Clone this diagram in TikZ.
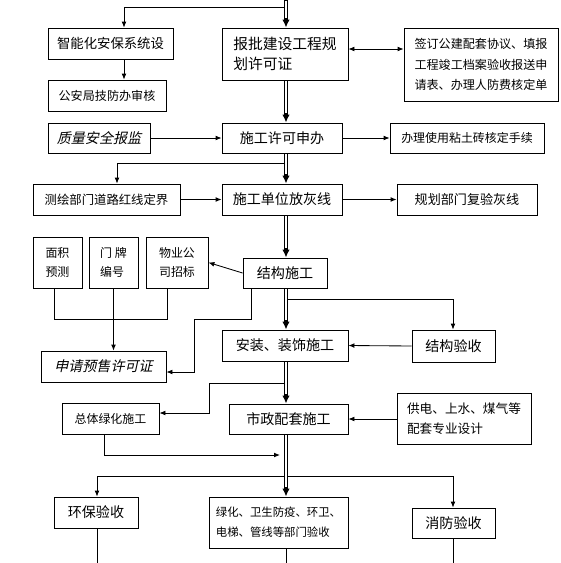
\documentclass[tikz,border=0pt]{standalone}
\usepackage{fontspec}
\setmainfont{Noto Sans CJK SC}
\newfontfamily\slantfont[FakeSlant=0.22]{Noto Sans CJK SC}
\usetikzlibrary{arrows.meta}

\tikzset{
  box/.style={draw, line width=0.6pt, inner sep=0pt, align=left},
  wh/.style 2 args={minimum width=#1*0.25mm, minimum height=#2*0.25mm},
  fs/.style 2 args={font=\fontsize{#1}{#2}\selectfont},
  plain/.style={line width=0.6pt},
  link/.style={line width=0.6pt, -{Latex[length=1.5mm,width=1.2mm]}},
  spine/.style={line width=2.7pt, -{Latex[length=2mm,width=1.9mm]},
    postaction={draw=white, line width=1.3pt, -, shorten <=0.5pt, shorten >=2.3mm}},
}

\begin{document}
\begin{tikzpicture}[x=0.25mm, y=-0.25mm]
  \useasboundingbox (0,0) rectangle (561,563);
  % boxes
  \node[box, wh={125}{31}, fs={9.5}{13}] (anbao) at (110.5,43.5) {智能化安保系统设};
  \node[box, wh={118}{31}, fs={8.6}{12}] (gongan) at (107,95.5) {公安局技防办审核};
  \node[box, wh={102}{30}, fs={10}{13}] (zhiliang) at (99,138) {\slantfont 质量安全报监};
  \node[box, wh={126}{52}, fs={10.5}{14.2}] (baopi) at (285,54) {报批建设工程规\\划许可证};
  \node[box, wh={154}{73}, fs={8.6}{14.6}] (qianding) at (481,64.5) {签订公建配套协议、填报\\工程竣工档案验收报送申\\请表、办理人防费核定单};
  \node[box, wh={120}{30}, fs={10}{13}] (xuke) at (282,138) {施工许可申办};
  \node[box, wh={154}{30}, fs={8.5}{12}] (niantu) at (467,138) {办理使用粘土砖核定手续};
  \node[box, wh={147}{31}, fs={8.8}{12}] (cehui) at (106.5,199.5) {测绘部门道路红线定界};
  \node[box, wh={120}{31}, fs={10}{13}] (fangxian) at (282,199.5) {施工单位放灰线};
  \node[box, wh={140}{31}, fs={9.3}{12}] (fuyan) at (467,199.5) {规划部门复验灰线};
  \node[box, wh={49}{51}, fs={8.5}{13.5}] (mianji) at (57.5,262.5) {面积\\预测};
  \node[box, wh={49}{51}, fs={8.5}{13.5}] (menpai) at (113.5,262.5) {门 牌\\编号};
  \node[box, wh={62}{51}, fs={8.5}{13.5}] (wuye) at (177,262.5) {物业公\\司招标};
  \node[box, wh={84}{30}, fs={10}{13}] (jiegou) at (285,273) {结构施工};
  \node[box, wh={125}{31}, fs={10}{13}] (yushou) at (103.5,366.5) {\slantfont 申请预售许可证};
  \node[box, wh={126}{31}, fs={10}{13}] (anzhuang) at (285,345.5) {安装、装饰施工};
  \node[box, wh={83}{32}, fs={10}{13}] (yanshou) at (453.5,346) {结构验收};
  \node[box, wh={97}{31}, fs={8.5}{12}] (lvhua) at (110.5,418.5) {总体绿化施工};
  \node[box, wh={119}{30}, fs={10}{13}] (shizheng) at (288.5,419) {市政配套施工};
  \node[box, wh={134}{51}, fs={9}{14.2}] (gongdian) at (464,418.5) {供电、上水、煤气等\\配套专业设计};
  \node[box, wh={84}{31}, fs={10}{13}] (huanbao) at (96,512.5) {环保验收};
  \node[box, wh={139}{51}, fs={8.1}{14.2}] (bumen) at (278.5,522.5) {绿化、卫生防疫、环卫、\\电梯、管线等部门验收};
  \node[box, wh={83}{30}, fs={10}{13}] (xiaofang) at (453.5,523) {消防验收};

  % turning points
  \coordinate (sp) at (286,0);
  \coordinate (bot) at (0,563);
  \coordinate (t1) at (124,7);
  \coordinate (qy) at (0,49);
  \coordinate (c1) at (117,163);
  \coordinate (m1) at (54,319);
  \coordinate (m2) at (167,319);
  \coordinate (j1) at (251,319);
  \coordinate (j2) at (194,319);
  \coordinate (j3) at (194,372);
  \coordinate (y1) at (453,299);
  \coordinate (g1) at (209,383);
  \coordinate (g2) at (209,413);
  \coordinate (g3) at (104,455);
  \coordinate (b1) at (97,476);
  \coordinate (b2) at (453,476);

  % side links
  \draw[link] (sp |- t1) -- (t1) -- (t1 |- anbao.north);
  \draw[link] (anbao.south -| t1) -- (gongan.north -| t1);
  \draw[link] (zhiliang.east) -- (xuke.west);
  \draw[line width=0.6pt, {Latex[length=1.5mm,width=1.2mm]}-{Latex[length=1.5mm,width=1.2mm]}] (baopi.east |- qy) -- (qianding.west |- qy);
  \draw[link] (xuke.east) -- (niantu.west);
  \draw[link] (sp |- c1) -- (c1) -- (c1 |- cehui.north);
  \draw[link] (cehui.east) -- (fangxian.west);
  \draw[link] (fangxian.east) -- (fuyan.west);
  \draw[link] (jiegou.west) -- (wuye.east);
  \draw[plain] (mianji.south -| m1) -- (m1) -- (m2) -- (wuye.south -| m2);
  \draw[link] (menpai.south) -- (menpai.south |- yushou.north);
  \draw[link] (jiegou.south -| j1) -- (j1) -- (j2) -- (j3) -- (yushou.east |- j3);
  \draw[link] (sp |- y1) -- (y1) -- (y1 |- yanshou.north);
  \draw[link] (yanshou.west) -- (anzhuang.east);
  \draw[link] (sp |- g1) -- (g1) -- (g2) -- (lvhua.east |- g2);
  \draw[link, shorten >=1.5mm] (lvhua.south -| g3) -- (g3) -- (sp |- g3);
  \draw[link] (gongdian.west |- shizheng.east) -- (shizheng.east);
  \draw[plain] (b1) -- (b2);
  \draw[link] (b1) -- (b1 |- huanbao.north);
  \draw[link] (b2) -- (b2 |- xiaofang.north);

  % main line
  \draw[spine] (sp) -- (baopi.north -| sp);
  \draw[spine] (baopi.south -| sp) -- (xuke.north -| sp);
  \draw[spine] (xuke.south -| sp) -- (fangxian.north -| sp);
  \draw[spine] (fangxian.south -| sp) -- (jiegou.north -| sp);
  \draw[spine] (jiegou.south -| sp) -- (anzhuang.north -| sp);
  \draw[spine] (anzhuang.south -| sp) -- (shizheng.north -| sp);
  \draw[spine] (shizheng.south -| sp) -- (bumen.north -| sp);

  % lines leaving the page
  \draw[plain] (huanbao.south -| b1) -- (b1 |- bot);
  \draw[plain] (bumen.south -| sp) -- (sp |- bot);
  \draw[plain] (xiaofang.south -| b2) -- (b2 |- bot);
\end{tikzpicture}
\end{document}
